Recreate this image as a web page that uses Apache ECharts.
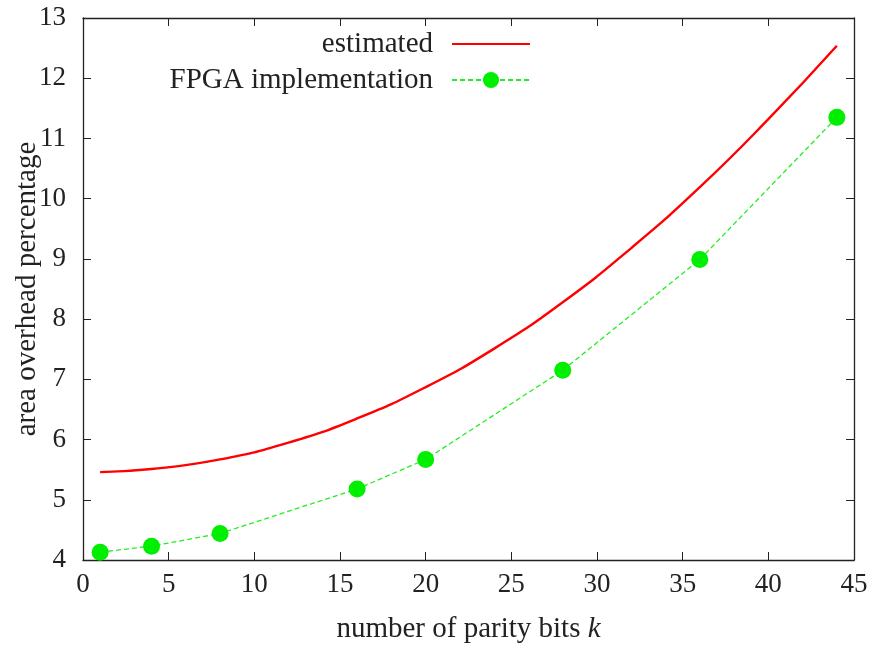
<!DOCTYPE html>
<html>
<head>
<meta charset="utf-8">
<script src="https://cdn.jsdelivr.net/npm/echarts@6/dist/echarts.min.js"></script>
<style>
  html, body { margin: 0; padding: 0; background: #fff; }
  #main { width: 873px; height: 650px; }
</style>
</head>
<body>
<div id="main"></div>
<script>
// estimated curve
var estK = [1, 4, 8, 12, 16, 20, 24, 28, 32, 36, 40, 44];
var estVal = [5.46, 5.51, 5.67, 5.95, 6.35, 6.87, 7.51, 8.28, 9.18, 10.19, 11.32, 12.54];

// FPGA measurements
var fpgaK = [1, 4, 8, 16, 20, 28, 36, 44];
var fpgaVal = [4.13, 4.23, 4.44, 5.18, 5.67, 7.15, 8.99, 11.35];

var font = '"Liberation Serif", "DejaVu Serif", serif';
var ink = '#222';

function pairs(xs, ys) {
  return xs.map(function (x, i) { return [x, ys[i]]; });
}

var tick = { show: true, inside: true, length: 8, lineStyle: { color: ink, width: 1 } };
var line = { show: true, onZero: false, lineStyle: { color: ink, width: 1.3 } };

var myChart = echarts.init(document.getElementById('main'));
myChart.setOption({
  animation: false,
  backgroundColor: '#fff',
  textStyle: { fontFamily: font },
  grid: { left: 83, right: 19, top: 18, bottom: 90, containLabel: false, outerBoundsMode: 'none' },
  legend: {
    orient: 'vertical',
    align: 'right',
    right: 342,
    top: 29,
    padding: 0,
    itemWidth: 78,
    itemHeight: 20,
    itemGap: 6,
    textStyle: { fontFamily: font, fontSize: 29, lineHeight: 30, color: ink, padding: [0, 14, 0, 0] },
    data: [
      { name: 'estimated', itemStyle: { color: 'rgba(0,0,0,0)', borderWidth: 0 } },
      'FPGA implementation'
    ]
  },
  xAxis: [{
    type: 'value', min: 0, max: 45, interval: 5,
    name: 'number of parity bits {i|k}',
    nameLocation: 'middle', nameGap: 55, nameMoveOverlap: false,
    nameTextStyle: {
      fontFamily: font, fontSize: 29, color: ink,
      rich: { i: { fontFamily: font, fontSize: 29, fontStyle: 'italic', color: ink } }
    },
    axisLine: line, axisTick: tick,
    axisLabel: { fontFamily: font, fontSize: 27, color: ink, margin: 11 },
    splitLine: { show: false }
  }, {
    type: 'value', min: 0, max: 45, interval: 5, position: 'top',
    axisLine: line, axisTick: tick, axisLabel: { show: false }, splitLine: { show: false }
  }],
  yAxis: [{
    type: 'value', min: 4, max: 13, interval: 1,
    name: 'area overhead percentage',
    nameLocation: 'middle', nameGap: 41, nameMoveOverlap: false,
    nameTextStyle: { fontFamily: font, fontSize: 29, color: ink },
    axisLine: line, axisTick: tick,
    axisLabel: { fontFamily: font, fontSize: 27, color: ink, margin: 17 },
    splitLine: { show: false }
  }, {
    type: 'value', min: 4, max: 13, interval: 1, position: 'right',
    axisLine: line, axisTick: tick, axisLabel: { show: false }, splitLine: { show: false }
  }],
  series: [{
    name: 'estimated',
    type: 'line',
    smooth: true,
    showSymbol: false,
    symbol: 'none',
    data: pairs(estK, estVal),
    itemStyle: { color: '#ff0000' },
    lineStyle: { color: '#ff0000', width: 2.4 }
  }, {
    name: 'FPGA implementation',
    type: 'line',
    symbol: 'circle',
    symbolSize: 17,
    data: pairs(fpgaK, fpgaVal),
    itemStyle: { color: '#00ee00' },
    lineStyle: { color: '#22ee22', width: 1.3, type: [5, 3] }
  }]
});
</script>
</body>
</html>
